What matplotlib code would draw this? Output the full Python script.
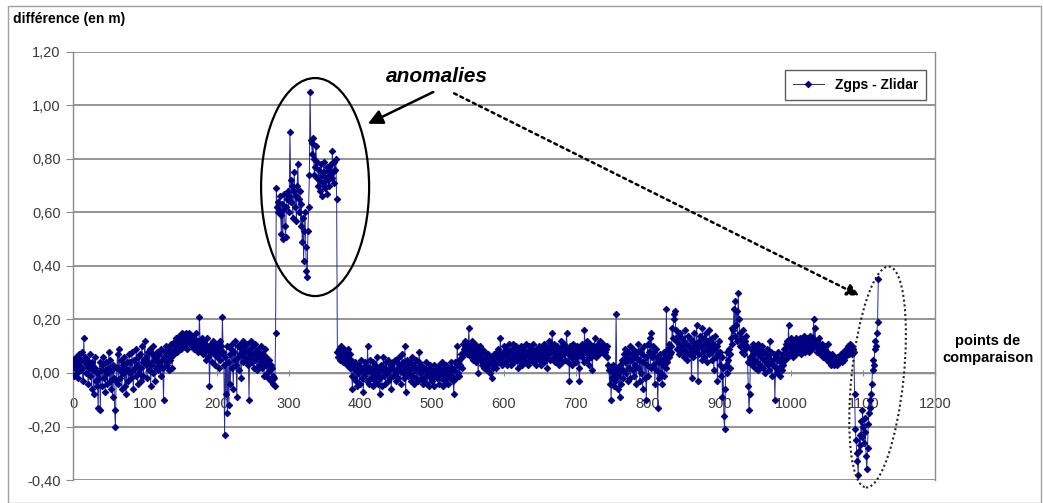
import matplotlib
matplotlib.use("Agg")
import matplotlib.pyplot as plt
import numpy as np
from matplotlib.patches import Ellipse, Rectangle
from matplotlib.ticker import FuncFormatter
from matplotlib.transforms import IdentityTransform

plt.rcParams['font.family'] = ['Liberation Sans', 'DejaVu Sans']

# Zgps - Zlidar, in centimetres
# points 0 - 282 : normal
seg_start_cm = [
    3, -1, 5, 2, 6, 0, 4, -2, 7, 3, 5, 1, 8, 2, -3, 13, 4, 6, 0, 3,
    5, -4, 2, 7, -1, 3, -6, 4, 1, -8, 2, 6, -3, 0, -5, -13, -2, 4, -14, 1,
    3, -5, 6, -2, 1, -7, 4, 0, -4, 2, 8, -3, 5, -6, 1, -9, 3, -2, -14, -20,
    -3, 2, 7, -4, 9, 1, -2, 5, -6, 3, 0, 6, -5, 2, -8, 4, 1, -3, 7, 0,
    4, -2, 8, 1, -6, 5, 2, -1, 9, 3, -4, 6, 0, 7, -3, 2, 10, 4, -1, 5,
    12, 3, 6, -2, 8, 4, 1, 9, -5, 3, 7, 0, 10, 5, -3, 6, 2, 8, 4, 1,
    7, 3, -1, 9, 5, 2, -10, 6, 8, 4, 10, 3, 7, 1, 9, 5, 11, 6, 2, 8,
    10, 7, 12, 9, 13, 8, 11, 14, 10, 12, 9, 13, 15, 11, 14, 10, 12, 15, 13, 9,
    14, 12, 15, 11, 13, 10, 14, 12, 9, 13, 11, 15, 12, 10, 8, 12, 21, 11, 9, 13,
    10, 7, 12, 8, 11, 5, 9, 13, 6, 10, -5, 8, 11, 4, 9, 12, 7, 10, 3, 8,
    11, 6, 9, 2, 12, 5, 10, 7, 21, 8, 3, -23, 6, -8, 10, -15, 4, -12, 7, -4,
    9, 2, 11, -6, 8, 5, 12, 3, -9, 10, 6, 1, 11, 7, -2, 9, 4, 12, 6, 8,
    10, 5, 11, 3, 8, -10, 9, 6, 12, 4, 7, 10, 2, 11, 5, 8, 1, 9, 6, 3,
    8, 4, 10, 2, 7, 5, -1, 9, 3, 6, 0, 4, -2, 5, 1, 3, -3, 2, -1, -4,
    -2, -5, 15,
]
# points 283 - 367 : first anomaly
seg_anomaly_cm = [
    69, 62, 60, 64, 61, 66, 59, 52, 63, 50, 61, 67, 55, 51, 62, 65, 68, 60, 66, 90,
    72, 64, 70, 58, 68, 75, 62, 66, 57, 70, 78, 65, 60, 68, 55, 63, 49, 58, 42, 53,
    60, 47, 38, 36, 53, 62, 74, 105, 87, 86, 82, 88, 80, 74, 77, 85, 79, 73, 70, 76,
    72, 68, 78, 74, 66, 71, 79, 75, 69, 73, 67, 77, 72, 76, 70, 74, 78, 73, 83, 75,
    71, 79, 76, 80, 65,
]
# points 368 - 1087 : normal
seg_middle_cm = [
    8, 6, 9, 5, 7, 10, 6, 8, 4, 9, 7, 5, 8, 3, 6, 9, 4, 7, 2, 5,
    -1, -6, 3, -2, 1, 4, -3, 2, -5, 0, 3, -4, 1, 5, -2, 2, -7, -1, 4, 0,
    3, -3, 10, 1, -4, 2, 5, -2, 0, 4, -5, 1, -3, 3, -1, 6, -4, 0, 2, -8,
    -2, 3, -5, 1, 6, -1, 2, -4, 4, 0, -3, 5, 1, -2, 3, -6, 2, 4, -1, 1,
    5, 0, -3, 4, 2, -2, 6, 1, -4, 3, 7, 0, 4, -2, 10, -7, 2, 5, -1, 3,
    0, 4, -3, 2, 6, -1, 3, -4, 1, 5, -2, 2, -3, 4, 8, 0, -2, 3, 1, -4,
    2, -3, 1, -1, 4, -4, 0, 2, -5, 3, -2, 1, -3, 0, 3, -5, 2, -1, 1, -2,
    0, 3, -4, 1, -2, 4, -1, -5, 2, 0, -3, 3, -1, 1, -4, 2, 0, -2, 4, -1,
    2, -3, -8, 1, 4, -2, 3, 10, 0, 5, -1, 3, 7, 2, 6, 11, 9, 12, 8, 10,
    7, 11, 9, 17, 8, 10, 6, 12, 9, 5, 8, 11, 7, 4, 9, 6, 0, 8, 5, 10,
    7, 3, 9, 5, 2, 8, 4, 6, 1, 7, 3, 5, 0, 6, 4, -2, 5, 2, 7, 3,
    6, 2, 8, 4, 9, 5, 7, 13, 6, 3, 8, 5, 10, 4, 7, 9, 3, 8, 6, 11,
    5, 8, 3, 9, 6, 11, 4, 7, 10, 5, 8, 2, 9, 6, 4, 10, 7, 3, 8, 5,
    9, 6, 11, 4, 8, 7, 3, 10, 5, 9, 6, 8, 4, 11, 7, 5, 9, 3, 8, 6,
    10, 5, 8, 7, 3, 9, 6, 11, 4, 8, 10, 6, 2, 9, 7, 12, 5, 8, 10, 15,
    9, 6, 11, 4, 8, 7, 10, 5, 3, 9, 6, 12, 8, 4, 10, 7, 11, 5, 8, 15,
    9, 4, 7, -3, 10, 6, 8, 3, 11, 5, 9, 7, 4, 10, 6, 8, 2, -3, 9, 7,
    11, 6, 9, 4, 16, 8, 10, 5, 12, 7, 3, 9, 11, 6, 8, 1, 10, 7, 13, 9,
    6, 10, 8, 11, 7, 9, 12, 8, 10, 9, 11, 7, 10, 8, 9, 6, 10, 3, 1, -4,
    2, -10, -2, 3, 0, -5, 1, -3, 22, -1, 2, -6, 0, -9, 3, -4, 5, 1, -2, 7,
    4, 9, 0, 6, -3, 8, 2, 10, -2, 5, 7, 1, 9, -1, 6, 3, -4, 8, 2, 11,
    5, -3, 9, 0, 7, -6, 4, 10, -2, 6, -10, 3, 11, -1, 8, 13, 2, 15, 6, 10,
    3, 8, -4, 9, 1, 6, -13, 4, -2, 7, 0, 5, -4, 3, 8, -1, 6, 2, 24, 4,
    9, 6, 11, 7, 10, 8, 17, 13, 20, 22, 23, 16, 12, 9, 14, 7, 11, 15, 10, 8,
    13, 9, 6, 12, 16, 8, 11, 5, 14, 10, 7, 13, 9, -2, 12, 6, 10, 15, 8, 11,
    18, 9, -3, 12, 7, 14, 10, 5, 17, 8, 13, 6, 11, 15, 9, 4, 12, 7, 16, 10,
    8, 13, 5, 11, 1, 9, 14, 6, 10, -3, 7, 12, 3, 8, -1, 6, -9, 2, -16, -21,
    -6, 3, 8, 0, 5, 9, 2, 7, 13, 17, 11, 16, 24, 14, 27, 18, 23, 12, 30, 20,
    15, 10, 13, 8, 16, 11, 7, 12, 9, 14, 10, 4, -5, -14, -8, 6, 9, 3, 11, 7,
    5, 10, 2, 8, 4, 11, 1, 7, 9, 3, 6, 10, 2, 8, 5, 0, 7, 4, 9, 3,
    6, 1, 12, 4, 8, -1, 5, 3, 7, -10, 2, 6, 0, 5, 8, 2, -1, 6, 4, 1,
    7, 3, 9, 5, 11, 8, 12, 6, 18, 10, 7, 13, 9, 11, 6, 12, 8, 10, 13, 7,
    11, 9, 12, 8, 13, 10, 7, 12, 9, 14, 11, 8, 12, 10, 13, 9, 11, 8, 14, 10,
    12, 9, 13, 20, 11, 17, 10, 12, 8, 11, 9, 13, 7, 10, 8, 11, 6, 9, 7, 10,
    6, 8, 5, 11, 7, 4, 6, 3, 7, 5, 4, 6, 3, 5, 4, 6, 3, 5, 4, 6,
    5, 7, 4, 6, 8, 5, 7, 6, 9, 7, 8, 10, 7, 11, 9, 8, 10, 7, 9, 8,
]
# points 1088 - 1121 : second anomaly
seg_end_cm = [
    -8, -21, -25, -30, -33, -38, -29, -23, -27, -18, -24, -14, -20, -26, -17,
    -22, -31, -36, -28, -19, -15, -10, -13, -8, -4, 1, 5, 3, 9, 12, 10, 15, 19, 35,
]

y_ticks = [-0.40, -0.20, 0.00, 0.20, 0.40, 0.60, 0.80, 1.00, 1.20]
x_ticks = [0, 100, 200, 300, 400, 500, 600, 700, 800, 900, 1000, 1100, 1200]

diff_m = np.array(seg_start_cm + seg_anomaly_cm + seg_middle_cm + seg_end_cm) / 100.0
points = np.arange(len(diff_m))

grey = '#8c8c8c'
fig = plt.figure(figsize=(10.43, 5.03), dpi=100)
ax = fig.add_axes([0.070, 0.0457, 0.8265, 0.851])

ax.plot(points, diff_m, color='#2a2a96', lw=0.7, marker='D', markersize=3.3,
        markerfacecolor='#000080', markeredgecolor='#000080', markeredgewidth=0.7,
        label='Zgps - Zlidar', zorder=3)

ax.set_xlim(0, 1200)
ax.set_ylim(-0.40, 1.20)
ax.set_yticks(y_ticks)
ax.set_xticks(x_ticks)
ax.yaxis.set_major_formatter(FuncFormatter(lambda v, p: f"{v:.2f}".replace('.', ',')))
ax.yaxis.grid(True, color=grey, lw=1.3)
ax.set_axisbelow(True)

# x axis crosses at y = 0, like in the spreadsheet
ax.spines['bottom'].set_position(('data', 0))
for s in ax.spines.values():
    s.set_color(grey)
    s.set_linewidth(1.0)
ax.spines['top'].set_visible(False)
ax.tick_params(axis='x', direction='inout', length=4, color=grey, pad=15,
               labelsize=10.5, labelcolor='#3a3a3a')
ax.tick_params(axis='y', direction='out', length=5, color=grey, pad=4,
               labelsize=10.5, labelcolor='#3a3a3a')

leg = ax.legend(loc='upper right', bbox_to_anchor=(0.998, 0.975), fancybox=False,
                frameon=True, edgecolor='#333333', handlelength=2.2,
                borderpad=0.6, prop={'weight': 'bold', 'size': 10})
leg.get_frame().set_linewidth(1.0)

fig.text(0.012, 0.962, 'différence (en m)', fontsize=10, fontweight='bold', va='center')
fig.text(0.947, 0.305, 'points de\ncomparaison', fontsize=10.5, fontweight='bold',
         ha='center', va='center', linespacing=1.2)

# annotations
ax.text(506, 1.11, 'anomalies', fontsize=15, fontweight='bold', style='italic',
        ha='center', va='center')
ax.annotate('', xy=(407, 0.927), xytext=(505, 1.055),
            arrowprops=dict(arrowstyle='-|>', color='black', lw=1.8, mutation_scale=22))
ax.annotate('', xy=(1098, 0.285), xytext=(527, 1.05),
            arrowprops=dict(arrowstyle='-|>', color='black', lw=1.8, linestyle=(0, (1.2, 1.6)),
                            mutation_scale=18))

fig.canvas.draw()
c1 = ax.transData.transform((337, 0.695))
ax.add_patch(Ellipse(c1, 108, 218, fill=False, ec='black', lw=1.6,
                     transform=IdentityTransform(), clip_on=False, zorder=4))
c2 = ax.transData.transform((1120, -0.015))
ax.add_patch(Ellipse(c2, 52, 222, angle=-6, fill=False, ec='#222222', lw=1.5,
                     linestyle=(0, (1, 1.3)), transform=IdentityTransform(),
                     clip_on=False, zorder=4))

fig.add_artist(Rectangle((0.008, 0.0), 0.99, 0.988, transform=fig.transFigure,
                         fill=False, ec='#a0a0a0', lw=1.0))

fig.savefig('out.png', dpi=100)
